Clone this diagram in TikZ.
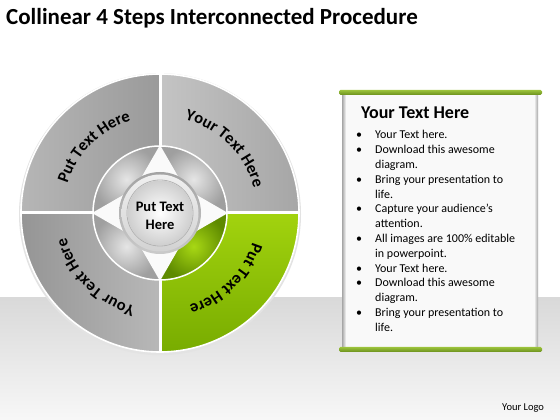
\documentclass[tikz,border=0pt]{standalone}
\usepackage{fontspec}
\setmainfont{Carlito}
\usetikzlibrary{decorations.text}
\definecolor{segNWa}{HTML}{B6B6B6}
\definecolor{segNWb}{HTML}{9A9A9A}
\definecolor{segNEa}{HTML}{C4C4C4}
\definecolor{segNEb}{HTML}{A6A6A6}
\definecolor{segSWa}{HTML}{959595}
\definecolor{segSWb}{HTML}{B8B8B8}
\definecolor{segSEa}{HTML}{A2D30E}
\definecolor{segSEb}{HTML}{78AC00}
\definecolor{inGreenA}{HTML}{A8D814}
\definecolor{inGreenB}{HTML}{5E8A00}
\definecolor{barA}{HTML}{9CC33C}
\definecolor{barB}{HTML}{6A8F1C}
\newcommand\curvefont{\fontsize{16.5}{16.5}\selectfont\bfseries}
\tikzset{
  curvelbl/.style={decorate, decoration={text along path, text align=center, text={#1}}},
  innerseg/.style={inner color=gray!20, outer color=gray!75},
  divider/.style={white, line width=3pt},
  barstyle/.style={top color=barA, bottom color=barB, rounded corners=1.5pt},
}
\begin{document}
\begin{tikzpicture}[x=1pt,y=1pt]
\useasboundingbox (0,0) rectangle (560,420);
% background
\fill[white] (0,0) rectangle (560,420);
\shade[top color=gray!30, bottom color=gray!6] (0,0) rectangle (560,122);
% title
\node[anchor=base west, inner sep=0, font=\fontsize{23}{23}\selectfont\bfseries] (title) at (6,395) {Collinear 4 Steps Interconnected Procedure};
% wheel
\begin{scope}[shift={(160,207)}]
  \fill[gray!22] (0,-1.2) circle (141);
  \shade[left color=segNWa, right color=segNWb] (0,0) -- (180:139) arc[start angle=180, end angle=90, radius=139] -- cycle;
  \shade[left color=segNEa, right color=segNEb] (0,0) -- (90:139) arc[start angle=90, end angle=0, radius=139] -- cycle;
  \shade[left color=segSWa, right color=segSWb] (0,0) -- (270:139) arc[start angle=270, end angle=180, radius=139] -- cycle;
  \shade[top color=segSEa, bottom color=segSEb] (0,0) -- (0:139) arc[start angle=0, end angle=-90, radius=139] -- cycle;
  \draw[divider] (-140,0) -- (140,0);
  \draw[divider] (0,-140) -- (0,140);
  \draw[white, line width=1.6pt] (0,0) circle (139);
  % inner ring
  \shade[innerseg] (0,0) -- (180:67) arc[start angle=180, end angle=90, radius=67] -- cycle;
  \shade[innerseg] (0,0) -- (90:67) arc[start angle=90, end angle=0, radius=67] -- cycle;
  \shade[innerseg] (0,0) -- (270:67) arc[start angle=270, end angle=180, radius=67] -- cycle;
  \shade[inner color=inGreenA, outer color=inGreenB] (0,0) -- (0:67) arc[start angle=0, end angle=-90, radius=67] -- cycle;
  % star
  \fill[gray!4] (90:68) -- (62:40) arc[start angle=62, end angle=28, radius=40]
     -- (0:68) -- (-28:40) arc[start angle=-28, end angle=-62, radius=40]
     -- (-90:68) -- (-118:40) arc[start angle=-118, end angle=-152, radius=40]
     -- (180:68) -- (152:40) arc[start angle=152, end angle=118, radius=40] -- cycle;
  \draw[white, line width=1.5pt] (0,0) circle (67);
  % centre disk
  \shade[top color=gray!72, bottom color=gray!42] (0,0) circle (41);
  \shade[top color=gray!12, bottom color=gray!35] (0,0) circle (38.5);
  \draw[gray!60, line width=0.8pt] (0,0) circle (33);
  \shade[inner color=white, outer color=gray!38] (0,0) circle (32.5);
  \node[align=center, inner sep=0, font=\fontsize{14.5}{18}\selectfont\bfseries] (centre) at (0,-3) {Put Text\\Here};
  % curved labels
  \path[curvelbl={|\curvefont|Put Text Here}] (180:97) arc[start angle=180, end angle=90, radius=97];
  \path[curvelbl={|\curvefont|Your Text Here}] (90:97) arc[start angle=90, end angle=0, radius=97];
  \path[curvelbl={|\curvefont|Put Text Here}] (0:97) arc[start angle=0, end angle=-90, radius=97];
  \path[curvelbl={|\curvefont|Your Text Here}] (-90:97) arc[start angle=-90, end angle=-180, radius=97];
\end{scope}
% panel
\fill[gray!5] (343,72) rectangle (537,327);
\shade[left color=gray!70, right color=gray!5] (342,72) rectangle (346,327);
\shade[left color=gray!5, right color=gray!70] (534,72) rectangle (538,327);
\shade[barstyle] (339,325) rectangle (542,330);
\shade[barstyle] (339,68) rectangle (542,73);
\node[anchor=base west, inner sep=0, font=\fontsize{18}{18}\selectfont\bfseries] (ptitle) at (361,301) {Your Text Here};
\node[anchor=base west, inner sep=0, font=\fontsize{12}{14.8}\selectfont] (plist) at (356,281) {%
\begin{tabular}[t]{@{}p{19pt}@{}l@{}}
\textbullet & Your Text here.\\
\textbullet & Download this awesome\\
 & diagram.\\
\textbullet & Bring your presentation to\\
 & life.\\
\textbullet & Capture your audience’s\\
 & attention.\\
\textbullet & All images are 100\% editable\\
 & in powerpoint.\\
\textbullet & Your Text here.\\
\textbullet & Download this awesome\\
 & diagram.\\
\textbullet & Bring your presentation to\\
 & life.
\end{tabular}};
\node[anchor=base west, inner sep=0, font=\fontsize{10.5}{10.5}\selectfont] (logo) at (502,9) {Your Logo};
\end{tikzpicture}
\end{document}
